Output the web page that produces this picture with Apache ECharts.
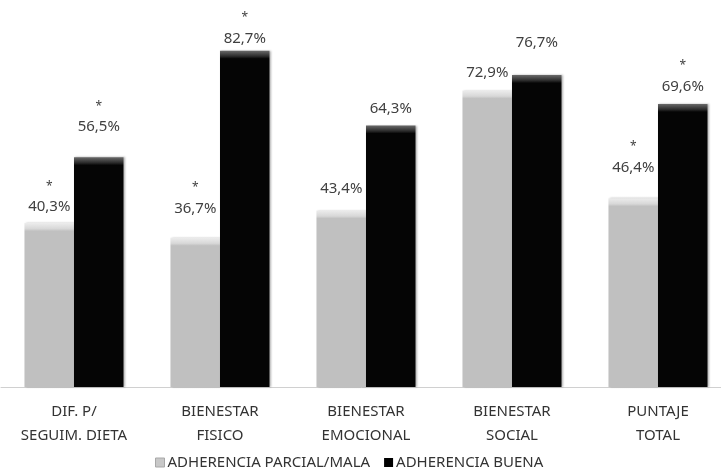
<!DOCTYPE html>
<html>
<head>
<meta charset="utf-8">
<script src="https://cdn.jsdelivr.net/npm/echarts@6/dist/echarts.min.js"></script>
<style>
  html, body { margin: 0; padding: 0; background: #fff; }
  #chart { width: 721px; height: 470px; }
</style>
</head>
<body>
<div id="chart"></div>
<script>
// Categories (two-line axis labels)
const categories = [
  'DIF. P/\nSEGUIM. DIETA',
  'BIENESTAR\nFISICO',
  'BIENESTAR\nEMOCIONAL',
  'BIENESTAR\nSOCIAL',
  'PUNTAJE\nTOTAL'
];
const seriesNames = ['ADHERENCIA PARCIAL/MALA', 'ADHERENCIA BUENA'];
// Percentages per group
const partialValues = [40.3, 36.7, 43.4, 72.9, 46.4];
const goodValues = [56.5, 82.7, 64.3, 76.7, 69.6];
// Significance marks (asterisk above the value)
const partialSig = [true, true, false, false, true];
const goodSig = [true, true, false, false, true];

// Layout constants: how far each value label sits above its bar (px)
const partialLift = [8, 21, 14, 10, 23];
const goodLift = [22, 4, 9, 24, 9];

const Y_MAX = 90;
const GRID_TOP = 21, GRID_BOTTOM = 83;
const pxPerUnit = (470 - GRID_TOP - GRID_BOTTOM) / Y_MAX;
const CAP = 8; // bevel height in px

function capGradient(v, cap, edge, body) {
  const h = v * pxPerUnit;
  const o = Math.min(0.5, CAP / h);
  return new echarts.graphic.LinearGradient(0, 0, 0, 1, [
    { offset: 0, color: cap },
    { offset: o * 0.7, color: edge },
    { offset: o, color: body },
    { offset: 1, color: body }
  ]);
}

function fmt(v) { return v.toFixed(1).replace('.', ',') + '%'; }

function buildData(values, sig, lift, cap, edge, body) {
  return values.map((v, i) => ({
    value: v,
    itemStyle: { color: capGradient(v, cap, edge, body) },
    label: {
      distance: lift[i],
      formatter: (sig[i] ? '{s|*}\n' : '') + '{v|' + fmt(v) + '}'
    }
  }));
}

const labelRich = {
  s: { fontSize: 12, color: '#404040', lineHeight: 26, fontFamily: 'Noto Sans' },
  v: { fontSize: 15, color: '#404040', lineHeight: 16, fontFamily: 'Noto Sans' }
};

const chart = echarts.init(document.getElementById('chart'), null, { renderer: 'canvas' });
chart.setOption({
  animation: false,
  backgroundColor: '#ffffff',
  grid: {
    left: 1, width: 730, top: GRID_TOP, bottom: GRID_BOTTOM,
    containLabel: false, outerBoundsMode: 'none'
  },
  legend: {
    top: 450,
    left: 150,
    itemWidth: 9,
    itemHeight: 9,
    itemGap: 14,
    icon: 'rect',
    textStyle: { fontFamily: 'Noto Sans', fontSize: 15, color: '#333', padding: [0, 0, 0, -2] },
    data: [
      { name: seriesNames[0], itemStyle: { color: '#c8c8c8', borderColor: '#a8a8a8', borderWidth: 1 } },
      { name: seriesNames[1], itemStyle: { color: '#000' } }
    ]
  },
  xAxis: {
    type: 'category',
    data: categories,
    axisLine: { show: true, lineStyle: { color: '#d0d0d0', width: 1 } },
    axisTick: { show: false },
    axisLabel: {
      interval: 0,
      margin: 13,
      fontFamily: 'Noto Sans',
      fontSize: 15,
      lineHeight: 24,
      color: '#333'
    }
  },
  yAxis: {
    type: 'value',
    min: 0,
    max: Y_MAX,
    show: false,
    splitLine: { show: false }
  },
  series: [
    {
      name: seriesNames[0],
      type: 'bar',
      barWidth: 49.5,
      barGap: '0%',
      itemStyle: { color: '#c0c0c0', shadowColor: 'rgba(0,0,0,0.25)', shadowBlur: 2, shadowOffsetX: 1 },
      label: { show: true, position: 'top', rich: labelRich },
      data: buildData(partialValues, partialSig, partialLift, '#ececec', '#d8d8d8', '#c0c0c0')
    },
    {
      name: seriesNames[1],
      type: 'bar',
      barWidth: 49.5,
      barGap: '0%',
      itemStyle: { color: '#000000', shadowColor: 'rgba(0,0,0,0.3)', shadowBlur: 2, shadowOffsetX: 1 },
      label: { show: true, position: 'top', rich: labelRich },
      data: buildData(goodValues, goodSig, goodLift, '#6a6a6a', '#2a2a2a', '#050505')
    }
  ]
});
</script>
</body>
</html>
